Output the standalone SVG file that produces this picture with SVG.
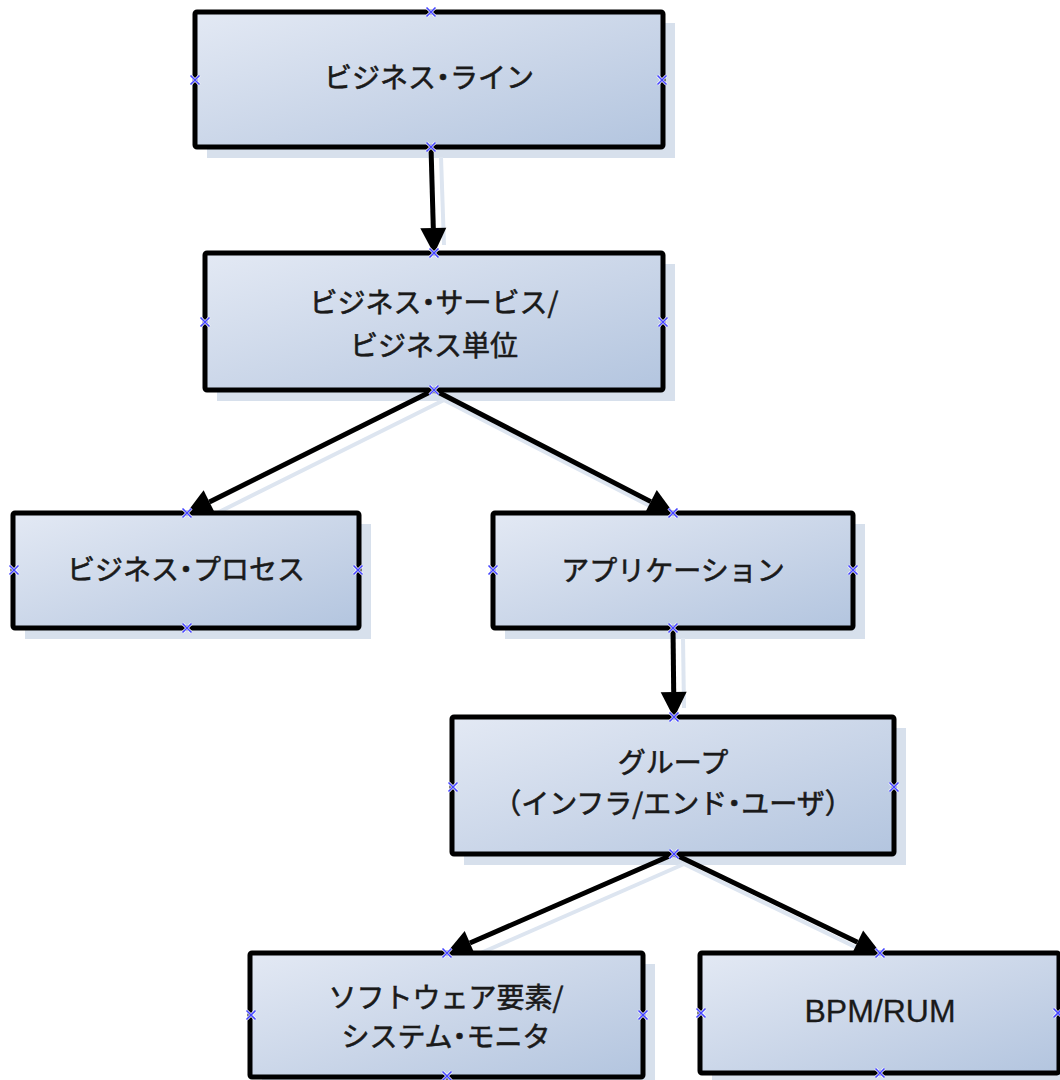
<svg xmlns="http://www.w3.org/2000/svg" xmlns:xlink="http://www.w3.org/1999/xlink" width="1060" height="1080" viewBox="0 0 1060 1080">
  <defs>
    <linearGradient id="boxFill" x1="0" y1="0" x2="1" y2="1">
      <stop offset="0" stop-color="#e3e9f4"/>
      <stop offset="0.55" stop-color="#c9d5e8"/>
      <stop offset="1" stop-color="#b3c5df"/>
    </linearGradient>
    <marker id="arrow" markerUnits="userSpaceOnUse" markerWidth="30" markerHeight="30" viewBox="0 -15 30 30" refX="0" refY="0" orient="auto" overflow="visible">
      <path d="M0,-13 L26,0 L0,13 z" fill="#000"/>
    </marker>
    <!-- connection point cross -->
    <g id="cp">
      <path d="M-4.5,-4.5 L4.5,4.5 M-4.5,4.5 L4.5,-4.5" stroke="#ffffff" stroke-width="3" fill="none"/>
      <path d="M-4.5,-4.5 L4.5,4.5 M-4.5,4.5 L4.5,-4.5" stroke="#4545ff" stroke-width="1.6" fill="none"/>
    </g>
  </defs>
  <style>
    .shadow { fill: #d7e0ec; }
    .box { fill: url(#boxFill); stroke: #000; stroke-width: 5; stroke-linejoin: round; }
    .label { font-family: "Noto Sans CJK JP", "Noto Sans", sans-serif; font-size: 28px; fill: #1a1a1a; stroke: #1a1a1a; stroke-width: 0.6; text-anchor: middle; }
    .label .dot { font-feature-settings: "halt"; }
    .latin { font-family: "Liberation Sans", Arial, sans-serif; font-size: 32px; fill: #1a1a1a; stroke: #1a1a1a; stroke-width: 0.3; text-anchor: middle; }
    .conn { stroke: #000; stroke-width: 5; fill: none; marker-end: url(#arrow); }
    .conn-shadow { stroke: #dde5f0; stroke-width: 4; fill: none; }
  </style>

  <rect width="1060" height="1080" fill="#ffffff"/>

  <!-- drop shadows of the boxes -->
  <g id="shadows">
    <rect class="shadow" x="207" y="23" width="468" height="135"/>
    <rect class="shadow" x="217" y="264" width="458" height="137"/>
    <rect class="shadow" x="25" y="524" width="346" height="115"/>
    <rect class="shadow" x="505" y="524" width="360" height="115"/>
    <rect class="shadow" x="464" y="728" width="442" height="137"/>
    <rect class="shadow" x="262" y="964" width="393" height="124"/>
    <rect class="shadow" x="712" y="964" width="359" height="120"/>
  </g>

  <!-- connectors -->
  <g id="connectors">
    <g id="connector-shadows">
      <path class="conn-shadow" d="M441,157 L444,245"/>
      <path class="conn-shadow" d="M444,400 L205,519"/>
      <path class="conn-shadow" d="M444,400 L675,519"/>
      <path class="conn-shadow" d="M683,638 L684,708"/>
      <path class="conn-shadow" d="M684,864 L465,960"/>
      <path class="conn-shadow" d="M684,864 L882,960"/>
    </g>
    <path class="conn" d="M431,147 L433.3,228"/>
    <path class="conn" d="M434,390 L209.4,501.9"/>
    <path class="conn" d="M434,390 L650.8,501.6"/>
    <path class="conn" d="M673,628 L673.7,692"/>
    <path class="conn" d="M674,854 L469.9,943"/>
    <path class="conn" d="M674,854 L857.5,942.2"/>
  </g>

  <!-- nodes (the middle dot uses the half-width form) -->
  <g id="node-business-line">
    <rect class="box" x="195" y="12" width="468" height="135" rx="2"/>
    <text class="label" x="429" y="88">ビジネス<tspan class="dot">・</tspan>ライン</text>
  </g>
  <g id="node-business-service">
    <rect class="box" x="205" y="253" width="458" height="137" rx="2"/>
    <text class="label" x="434" y="313">ビジネス<tspan class="dot">・</tspan>サービス/</text>
    <text class="label" x="434" y="356">ビジネス単位</text>
  </g>
  <g id="node-business-process">
    <rect class="box" x="13" y="513" width="346" height="115" rx="2"/>
    <text class="label" x="186" y="580">ビジネス<tspan class="dot">・</tspan>プロセス</text>
  </g>
  <g id="node-application">
    <rect class="box" x="493" y="513" width="360" height="115" rx="2"/>
    <text class="label" x="673" y="581">アプリケーション</text>
  </g>
  <g id="node-group">
    <rect class="box" x="452" y="717" width="442" height="137" rx="2"/>
    <text class="label" x="673" y="773">グループ</text>
    <text class="label" x="673" y="814">（インフラ/エンド<tspan class="dot">・</tspan>ユーザ）</text>
  </g>
  <g id="node-software">
    <rect class="box" x="250" y="953" width="393" height="124" rx="2"/>
    <text class="label" x="446" y="1008">ソフトウェア要素/</text>
    <text class="label" x="446" y="1047">システム<tspan class="dot">・</tspan>モニタ</text>
  </g>
  <g id="node-bpm-rum">
    <rect class="box" x="700" y="953" width="359" height="120" rx="2"/>
    <text class="latin" x="880" y="1022">BPM/RUM</text>
  </g>

  <!-- connection points -->
  <g id="connection-points">
    <use xlink:href="#cp" x="431" y="12"/>
    <use xlink:href="#cp" x="431" y="147"/>
    <use xlink:href="#cp" x="195" y="80"/>
    <use xlink:href="#cp" x="662" y="80"/>

    <use xlink:href="#cp" x="434" y="253"/>
    <use xlink:href="#cp" x="434" y="390"/>
    <use xlink:href="#cp" x="205" y="322"/>
    <use xlink:href="#cp" x="663" y="322"/>

    <use xlink:href="#cp" x="187" y="513"/>
    <use xlink:href="#cp" x="187" y="628"/>
    <use xlink:href="#cp" x="14" y="570"/>
    <use xlink:href="#cp" x="358" y="570"/>

    <use xlink:href="#cp" x="673" y="513"/>
    <use xlink:href="#cp" x="673" y="628"/>
    <use xlink:href="#cp" x="493" y="570"/>
    <use xlink:href="#cp" x="853" y="570"/>

    <use xlink:href="#cp" x="674" y="717"/>
    <use xlink:href="#cp" x="674" y="854"/>
    <use xlink:href="#cp" x="453" y="787"/>
    <use xlink:href="#cp" x="894" y="787"/>

    <use xlink:href="#cp" x="447" y="953"/>
    <use xlink:href="#cp" x="447" y="1076"/>
    <use xlink:href="#cp" x="251" y="1015"/>
    <use xlink:href="#cp" x="643" y="1015"/>

    <use xlink:href="#cp" x="880" y="953"/>
    <use xlink:href="#cp" x="880" y="1073"/>
    <use xlink:href="#cp" x="701" y="1013"/>
    <use xlink:href="#cp" x="1058" y="1013"/>
  </g>
</svg>
